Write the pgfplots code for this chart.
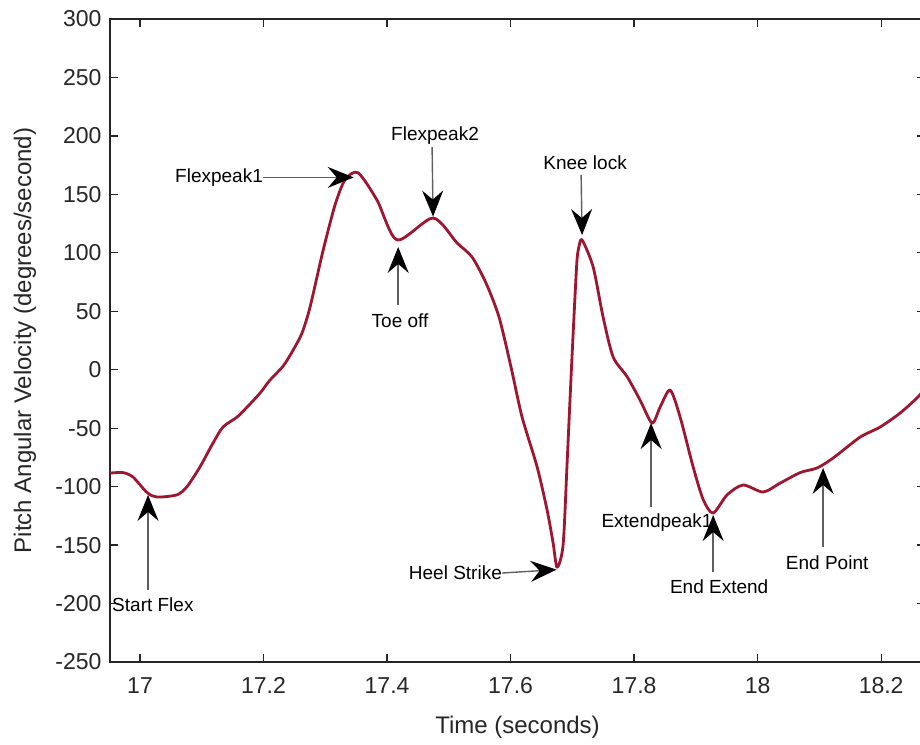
\documentclass[border=0pt]{standalone}
\usepackage{fontspec}
\setmainfont{Liberation Sans}
\usepackage{pgfplots}
\pgfplotsset{compat=1.18}
\usetikzlibrary{arrows.meta}

\definecolor{curve}{RGB}{158,22,48}
\definecolor{axgray}{RGB}{38,38,38}
\definecolor{shaft}{RGB}{95,95,95}

\tikzset{
  note/.style={inner sep=0pt, font=\fontsize{19}{22}\selectfont, text=black},
  pointer/.style={shaft, line width=1.4pt,
    -{Stealth[color=black, length=26pt, width=21pt, inset=9pt]}}
}

\begin{document}
\begin{tikzpicture}
\clip (-110pt,-82pt) rectangle (810pt,662pt);
\begin{axis}[
  at={(0,0)}, anchor=south west,
  scale only axis, width=815pt, height=643pt,
  xmin=16.9514, xmax=18.271, ymin=-250, ymax=300,
  xtick={17,17.2,17.4,17.6,17.8,18,18.2},
  xticklabels={17,17.2,17.4,17.6,17.8,18,18.2},
  ytick={-250,-200,-150,-100,-50,0,50,100,150,200,250,300},
  yticklabels={-250,-200,-150,-100,-50,0,50,100,150,200,250,300},
  tick align=inside, major tick length=8pt,
  axis line style={axgray, line width=1.3pt},
  every tick/.style={axgray, line width=1.3pt},
  tick label style={font=\fontsize{23}{27}\selectfont, text=axgray},
  xticklabel style={yshift=-12pt},
  yticklabel style={xshift=-5pt},
  label style={font=\fontsize{24}{28}\selectfont, text=axgray},
  xlabel={Time (seconds)},
  ylabel={Pitch Angular Velocity (degrees/second)},
  xlabel style={at={(axis description cs:0.5,0)}, anchor=center, yshift=-65pt},
  ylabel style={at={(axis description cs:-0.1043,0.5)}, anchor=center},
  clip=true,
]
% pitch angular velocity of the shank over one gait cycle
\addplot[curve, line width=2.8pt, line join=round, smooth, tension=0.45] coordinates {
(16.9514,-88.4) (16.9725,-88) (16.9887,-91.8) (17.0113,-105) (17.0275,-108.9)
(17.0599,-107) (17.0761,-100) (17.0972,-83) (17.1182,-62.7) (17.1344,-49)
(17.1571,-40.5) (17.1733,-32) (17.1943,-20) (17.2105,-8.8) (17.2316,3)
(17.2470,16) (17.2620,31) (17.2753,53.6) (17.2964,102) (17.3158,141)
(17.3320,162.5) (17.3530,168.5) (17.3838,145) (17.4162,111)
(17.4745,129.8) (17.5134,108.4) (17.5376,96.4) (17.5603,74) (17.5813,45)
(17.6008,2) (17.6186,-40.5) (17.6429,-83) (17.6591,-120) (17.6688,-148)
(17.6753,-169) (17.6850,-150) (17.6915,-80) (17.6980,-5) (17.7045,65)
(17.7077,95) (17.7110,106) (17.7158,111) (17.7336,88) (17.7498,45)
(17.7660,11) (17.7887,-6) (17.8097,-26) (17.8291,-45.6) (17.8421,-32)
(17.8583,-17.4) (17.8745,-40.5) (17.8955,-83) (17.9118,-111) (17.9279,-122.6)
(17.9506,-107) (17.9765,-98.6) (18.0089,-104.6) (18.0364,-97) (18.0688,-88)
(18.0964,-84) (18.1223,-75.5) (18.1660,-57.6) (18.1984,-49) (18.2308,-37)
(18.2583,-24) (18.2710,-16)
};

% gait event annotations
\node[note, anchor=east] at (axis cs:17.1992,164.5) {Flexpeak1};
\draw[pointer] (axis cs:17.1992,164.5) -- (axis cs:17.346,164.5);

\node[note] at (axis cs:17.4777,200) {Flexpeak2};
\draw[pointer] (axis cs:17.4729,190.5) -- (axis cs:17.4745,131);

\node[note] at (axis cs:17.421,41.7) {Toe off};
\draw[pointer] (axis cs:17.418,55.4) -- (axis cs:17.418,105);

\node[note] at (axis cs:17.7206,176.8) {Knee lock};
\draw[pointer] (axis cs:17.7142,166.6) -- (axis cs:17.7158,115.2);

\node[note, anchor=east] at (axis cs:17.5862,-173.9) {Heel Strike};
\draw[pointer] (axis cs:17.5862,-173.9) -- (axis cs:17.6745,-171);

\node[note] at (axis cs:17.837,-131.1) {Extendpeak1};
\draw[pointer] (axis cs:17.8275,-117.4) -- (axis cs:17.8275,-45.6);

\node[note] at (axis cs:17.9377,-185.8) {End Extend};
\draw[pointer] (axis cs:17.928,-173) -- (axis cs:17.928,-124.3);

\node[note] at (axis cs:18.1126,-165.3) {End Point};
\draw[pointer] (axis cs:18.106,-151.6) -- (axis cs:18.106,-84);

\node[note, anchor=west] at (axis cs:16.9547,-201.2) {Start Flex};
\draw[pointer] (axis cs:17.013,-188.4) -- (axis cs:17.013,-107.1);
\end{axis}
\end{tikzpicture}
\end{document}
